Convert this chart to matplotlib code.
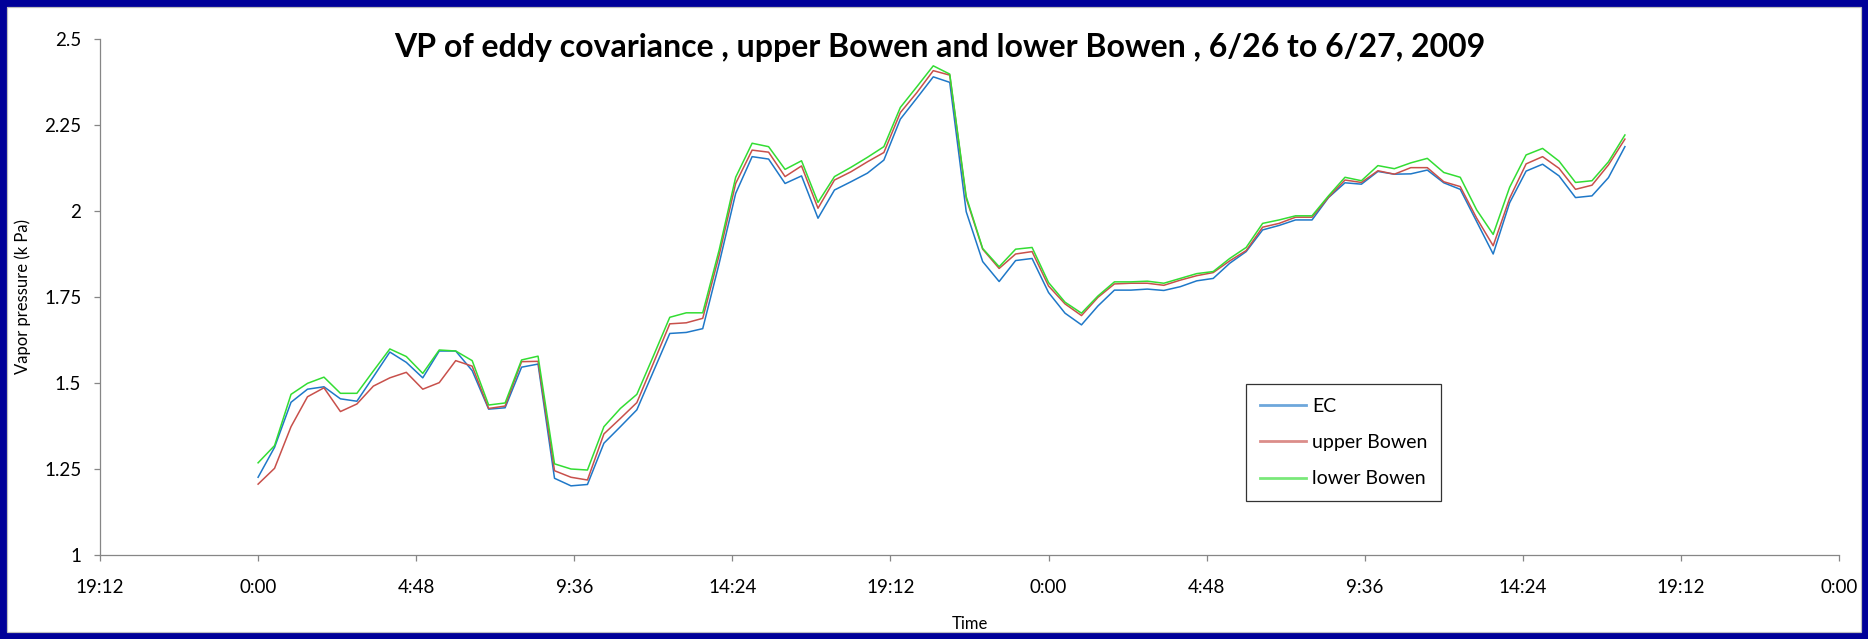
import matplotlib
matplotlib.use("Agg")
import matplotlib.pyplot as plt
from matplotlib.patches import Rectangle
import numpy as np

# Half-hourly vapor pressure (kPa), starting 6/26 0:00
ec = [1.226, 1.313, 1.444, 1.482, 1.489, 1.454, 1.447, 1.518, 1.590, 1.560,
      1.515, 1.593, 1.593, 1.536, 1.424, 1.428, 1.546, 1.555, 1.223, 1.201,
      1.205, 1.325, 1.373, 1.422, 1.533, 1.644, 1.647, 1.658, 1.848, 2.051,
      2.158, 2.151, 2.080, 2.102, 1.979, 2.061, 2.085, 2.110, 2.148, 2.267,
      2.328, 2.390, 2.374, 1.998, 1.853, 1.795, 1.856, 1.862, 1.763, 1.703,
      1.669, 1.724, 1.770, 1.770, 1.773, 1.769, 1.780, 1.797, 1.804, 1.848,
      1.882, 1.945, 1.958, 1.974, 1.974, 2.039, 2.082, 2.078, 2.115, 2.107,
      2.108, 2.119, 2.082, 2.063, 1.969, 1.875, 2.024, 2.116, 2.136, 2.102,
      2.039, 2.044, 2.097, 2.187]
upper_bowen = [1.206, 1.252, 1.373, 1.460, 1.486, 1.417, 1.439, 1.491, 1.515, 1.531,
               1.482, 1.501, 1.565, 1.549, 1.426, 1.433, 1.562, 1.563, 1.245, 1.226,
               1.218, 1.352, 1.397, 1.443, 1.557, 1.672, 1.675, 1.688, 1.872, 2.080,
               2.177, 2.171, 2.100, 2.131, 2.008, 2.090, 2.114, 2.143, 2.170, 2.286,
               2.344, 2.408, 2.395, 2.037, 1.889, 1.833, 1.875, 1.882, 1.782, 1.730,
               1.696, 1.749, 1.788, 1.790, 1.790, 1.784, 1.799, 1.812, 1.821, 1.855,
               1.885, 1.953, 1.964, 1.982, 1.982, 2.040, 2.090, 2.083, 2.117, 2.107,
               2.126, 2.126, 2.085, 2.071, 1.979, 1.899, 2.037, 2.137, 2.158, 2.124,
               2.063, 2.075, 2.134, 2.209]
lower_bowen = [1.268, 1.318, 1.467, 1.499, 1.517, 1.470, 1.470, 1.535, 1.599, 1.577,
               1.528, 1.596, 1.593, 1.565, 1.436, 1.442, 1.567, 1.578, 1.265, 1.250,
               1.247, 1.373, 1.426, 1.467, 1.578, 1.691, 1.704, 1.704, 1.887, 2.098,
               2.197, 2.187, 2.121, 2.146, 2.025, 2.100, 2.127, 2.156, 2.187, 2.301,
               2.361, 2.422, 2.398, 2.042, 1.891, 1.838, 1.889, 1.894, 1.792, 1.735,
               1.703, 1.753, 1.794, 1.794, 1.796, 1.790, 1.804, 1.818, 1.824, 1.862,
               1.894, 1.964, 1.974, 1.986, 1.986, 2.044, 2.098, 2.088, 2.132, 2.123,
               2.140, 2.153, 2.112, 2.098, 2.003, 1.932, 2.069, 2.163, 2.182, 2.145,
               2.083, 2.088, 2.143, 2.221]

series_names = ["EC", "upper Bowen", "lower Bowen"]
series_colors = ["#1F78C8", "#C8504B", "#33DD33"]

# Time axis in days (day 1 = 6/26 0:00), one reading every 30 minutes
start_day = 1.0
step_day = 1.0 / 48
times = start_day + step_day * np.arange(len(ec))

tick_days = [0.8, 1.0, 1.2, 1.4, 1.6, 1.8, 2.0, 2.2, 2.4, 2.6, 2.8, 3.0]
tick_labels = ["19:12", "0:00", "4:48", "9:36", "14:24", "19:12",
               "0:00", "4:48", "9:36", "14:24", "19:12", "0:00"]
y_ticks = [1.0, 1.25, 1.5, 1.75, 2.0, 2.25, 2.5]
y_labels = ["1", "1.25", "1.5", "1.75", "2", "2.25", "2.5"]

plt.rcParams["font.family"] = ["Lato", "DejaVu Sans"]

W, H, DPI = 1868, 639, 100
px = 72.0 / DPI  # points per pixel
fig = plt.figure(figsize=(W / DPI, H / DPI), dpi=DPI)
fig.patch.set_facecolor("white")

# navy chart frame with a thin grey inner edge
fig.patches.append(Rectangle((0, 0), 1, 1, transform=fig.transFigure,
                             facecolor="none", edgecolor="#000099",
                             linewidth=14 * px, zorder=10))
fig.patches.append(Rectangle((7 / W, 7 / H), 1 - 14 / W, 1 - 14 / H,
                             transform=fig.transFigure, facecolor="none",
                             edgecolor="#BFBFBF", linewidth=1.2 * px, zorder=10))

ax = fig.add_axes([100 / W, 1 - 555 / H, 1739 / W, 516 / H])
ax.set_facecolor("none")

for vals, name, col in zip([ec, upper_bowen, lower_bowen], series_names, series_colors):
    ax.plot(times, vals, color=col, linewidth=1.1, label=name)

ax.set_xlim(tick_days[0], tick_days[-1])
ax.set_ylim(1.0, 2.5)
ax.set_xticks(tick_days)
ax.set_xticklabels(tick_labels)
ax.set_yticks(y_ticks)
ax.set_yticklabels(y_labels)

for side in ["top", "right"]:
    ax.spines[side].set_visible(False)
for side in ["left", "bottom"]:
    ax.spines[side].set_color("#868686")
    ax.spines[side].set_linewidth(0.9)

ax.tick_params(axis="both", direction="out", length=4.5, width=0.9,
               color="#868686", labelsize=13.5, labelcolor="black")
ax.tick_params(axis="y", pad=9)
ax.tick_params(axis="x", pad=12.5)

ax.set_ylabel("Vapor pressure (k Pa)", fontsize=12, labelpad=9)
ax.set_xlabel("Time", fontsize=12, labelpad=15)

fig.text(0.503, 1 - 47 / H, "VP of eddy covariance , upper Bowen and lower Bowen , 6/26 to 6/27, 2009",
         ha="center", va="center", fontsize=23, fontweight="bold")

leg = ax.legend(loc="upper left", bbox_to_anchor=(1246 / W, 1 - 384 / H),
                bbox_transform=fig.transFigure, fontsize=14, frameon=True,
                fancybox=False, handlelength=2.4, handletextpad=0.3,
                labelspacing=1.0, borderpad=0.7, borderaxespad=0)
leg.get_frame().set_edgecolor("black")
leg.get_frame().set_linewidth(0.9)
for line in leg.get_lines():
    line.set_linewidth(2.0)
    line.set_alpha(0.65)

fig.savefig("out.png", dpi=DPI, facecolor=fig.get_facecolor())
